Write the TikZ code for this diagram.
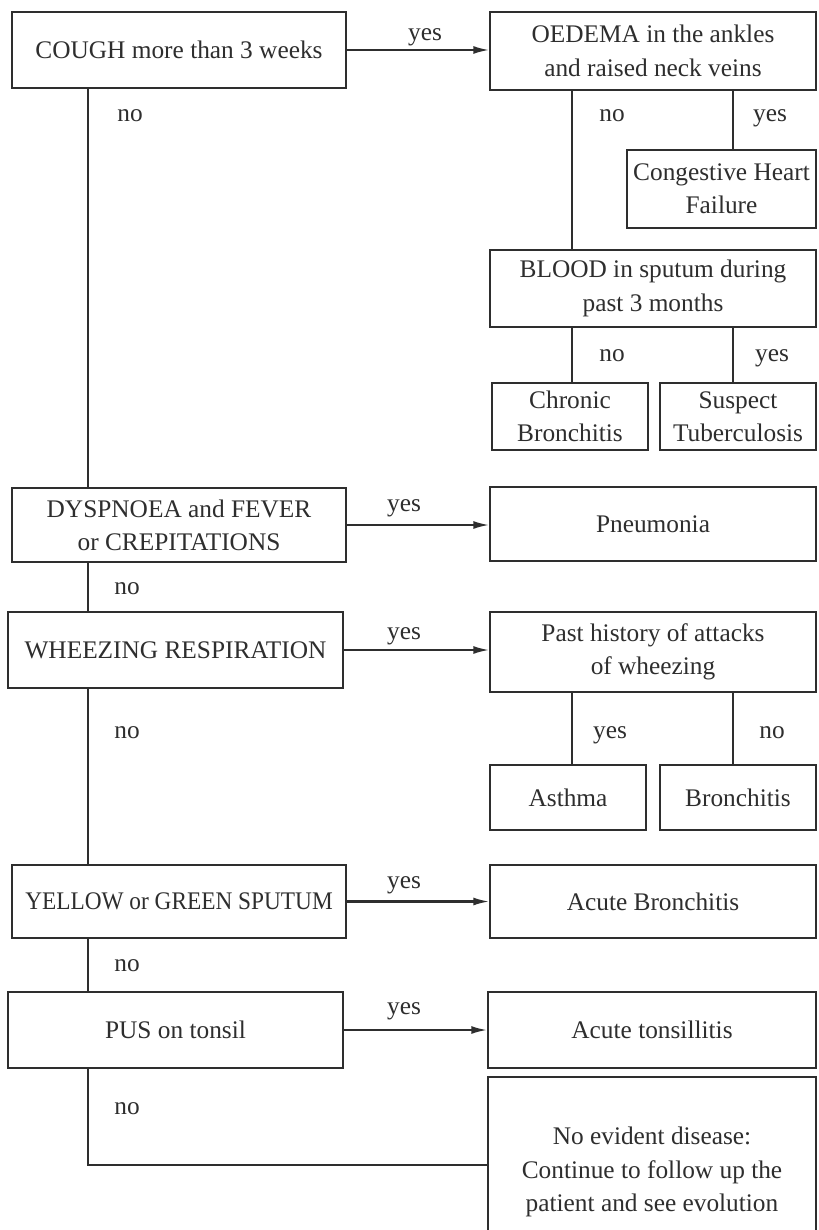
\documentclass[tikz,border=0pt]{standalone}
\usepackage{fontspec}
\setmainfont{Liberation Serif}
\usetikzlibrary{arrows.meta}
\definecolor{ink}{HTML}{2E2E2E}
% a box given by its left, top, right and bottom edges (in px, y downwards)
\newcommand\flowbox[6]{\node[box, minimum width={(#4-#2)*0.75pt}, minimum height={(#5-#3)*0.75pt}] (#1) at ({(#2+#4)/2},{(#3+#5)/2}) {#6};}
\begin{document}
\begin{tikzpicture}[x=0.75pt,y=-0.75pt,
  box/.style={draw=ink, line width=1.1pt, inner sep=0pt, align=center, text=ink, font=\fontsize{19}{25}\selectfont},
  link/.style={draw=ink, line width=1.1pt},
  yesarrow/.style={link, line width=1.6pt, -{Latex[length=12pt,width=6pt]}},
  lbl/.style={text=ink, font=\fontsize{19}{25}\selectfont, inner sep=0pt, anchor=base}]
\clip (0,0) rectangle (818,1230);
\fill[white] (0,0) rectangle (818,1230);

% column positions of the vertical connectors
\coordinate (spine) at (88,0);
\coordinate (colA) at (572,0);
\coordinate (colB) at (733,0);
\coordinate (turn) at (88,1165);

% left column: the questions
\flowbox{cough}{12}{12}{346}{88}{COUGH more than 3 weeks}
\flowbox{dysp}{12}{488}{346}{562}{DYSPNOEA and FEVER\\or CREPITATIONS}
\flowbox{wheeze}{8}{612}{343}{688}{WHEEZING RESPIRATION}
\flowbox{yellow}{12}{865}{346}{938}{\addfontfeature{FakeStretch=0.92}YELLOW or GREEN SPUTUM}
\flowbox{pus}{8}{992}{343}{1068}{PUS on tonsil}

% right column
\flowbox{oedema}{490}{12}{816}{90}{OEDEMA in the ankles\\and raised neck veins}
\flowbox{chf}{627}{150}{816}{228}{Congestive Heart\\Failure}
\flowbox{blood}{490}{250}{816}{327}{BLOOD in sputum during\\past 3 months}
\flowbox{chronic}{492}{383}{648}{450}{Chronic\\Bronchitis}
\flowbox{suspect}{660}{383}{816}{450}{Suspect\\Tuberculosis}
\flowbox{pneu}{490}{487}{816}{561}{Pneumonia}
\flowbox{past}{490}{612}{816}{692}{Past history of attacks\\of wheezing}
\flowbox{asthma}{490}{765}{646}{830}{Asthma}
\flowbox{bronch}{660}{765}{816}{830}{Bronchitis}
\flowbox{acute}{490}{865}{816}{938}{Acute Bronchitis}
\flowbox{tons}{488}{992}{816}{1068}{Acute tonsillitis}
\flowbox{noev}{488}{1077}{816}{1267}{No evident disease:\\Continue to follow up the\\patient and see evolution}

% "yes" arrows to the right
\draw[yesarrow] (cough.east) -- (cough.east -| oedema.west);
\draw[yesarrow] (dysp.east) -- (dysp.east -| pneu.west);
\draw[yesarrow] (wheeze.east) -- (wheeze.east -| past.west);
\draw[yesarrow] (yellow.east) -- (yellow.east -| acute.west);
\draw[yesarrow] (pus.east) -- (pus.east -| tons.west);
\node[lbl] (y1) at (425,41) {yes};
\node[lbl] (y2) at (404,511) {yes};
\node[lbl] (y3) at (404,639) {yes};
\node[lbl] (y4) at (404,888) {yes};
\node[lbl] (y5) at (404,1014) {yes};

% "no" path down the left side
\draw[link] (cough.south -| spine) -- (dysp.north -| spine);
\draw[link] (dysp.south -| spine) -- (wheeze.north -| spine);
\draw[link] (wheeze.south -| spine) -- (yellow.north -| spine);
\draw[link] (yellow.south -| spine) -- (pus.north -| spine);
\draw[link] (pus.south -| spine) -- (turn) -- (turn -| noev.west);
\node[lbl] (n1) at (130,122) {no};
\node[lbl] (n2) at (127,594) {no};
\node[lbl] (n3) at (127,738) {no};
\node[lbl] (n4) at (127,971) {no};
\node[lbl] (n5) at (127,1114) {no};

% branches on the right
\draw[link] (oedema.south -| colA) -- (blood.north -| colA);
\draw[link] (oedema.south -| colB) -- (chf.north -| colB);
\draw[link] (blood.south -| colA) -- (chronic.north -| colA);
\draw[link] (blood.south -| colB) -- (suspect.north -| colB);
\draw[link] (past.south -| colA) -- (asthma.north -| colA);
\draw[link] (past.south -| colB) -- (bronch.north -| colB);
\node[lbl] (n6) at (612,122) {no};
\node[lbl] (y6) at (770,122) {yes};
\node[lbl] (n7) at (612,361) {no};
\node[lbl] (y7) at (772,361) {yes};
\node[lbl] (y8) at (610,738) {yes};
\node[lbl] (n8) at (772,738) {no};
\end{tikzpicture}
\end{document}
